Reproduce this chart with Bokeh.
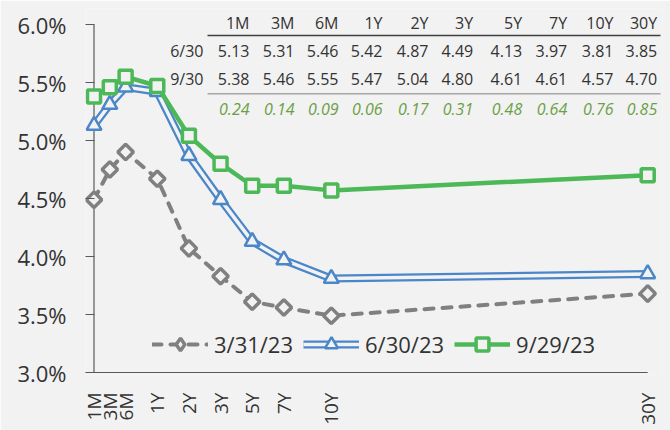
import math
from bokeh.plotting import figure
from bokeh.models import (FixedTicker, PrintfTickFormatter, Label, BoxAnnotation,
                          Legend, LegendItem, Range1d)
from bokeh.embed import file_html
from bokeh.resources import INLINE

# ---------------- data ----------------
tenors = ["1M", "3M", "6M", "1Y", "2Y", "3Y", "5Y", "7Y", "10Y", "30Y"]
x_pos = [0, 1, 2, 4, 6, 8, 10, 12, 15, 35]
y_0331 = [4.49, 4.75, 4.90, 4.67, 4.07, 3.83, 3.61, 3.56, 3.49, 3.68]
y_0630 = [5.13, 5.31, 5.46, 5.42, 4.87, 4.49, 4.13, 3.97, 3.81, 3.85]
y_0930 = [5.38, 5.46, 5.55, 5.47, 5.04, 4.80, 4.61, 4.61, 4.57, 4.70]
chg = [0.24, 0.14, 0.09, 0.06, 0.17, 0.31, 0.48, 0.64, 0.76, 0.85]
series_labels = ["3/31/23", "6/30/23", "9/29/23"]
row_labels = ["6/30", "9/30"]
y_ticks = [3.0, 3.5, 4.0, 4.5, 5.0, 5.5, 6.0]

# ---------------- style ----------------
BG = "#F2F2F2"
GRAY = "#808080"
BLUE = "#4A86C8"
GREEN = "#4CB858"
CHG_GREEN = "#6B9F45"
TXT = "#333333"
AX = "#595959"
FONT = "Open Sans"

PX_PER_X = 15.82
PX_PER_Y = 116.0
FL, FT = 85, 8            # frame left / top on the page
FRAME_W, FRAME_H = 577, 366
FB = FT + FRAME_H
X_START = -(8.5 / PX_PER_X)
X_END = X_START + FRAME_W / PX_PER_X
Y_END = 6.0 + 16 / PX_PER_Y
Y_START = Y_END - FRAME_H / PX_PER_Y

p = figure(frame_width=FRAME_W, frame_height=FRAME_H,
           x_range=Range1d(X_START, X_END), y_range=Range1d(Y_START, Y_END),
           output_backend="svg", toolbar_location=None,
           min_border_left=FL, min_border_right=8, min_border_top=FT, min_border_bottom=56)
p.background_fill_color = BG
p.border_fill_color = BG
p.outline_line_color = None
p.xgrid.visible = False
p.ygrid.visible = False

xa = p.xaxis[0]
xa.ticker = FixedTicker(ticks=x_pos)
xa.major_label_overrides = {x: t for x, t in zip(x_pos, tenors)}
xa.major_label_orientation = math.pi / 2
xa.major_tick_line_color = None
xa.minor_tick_line_color = None
xa.axis_line_color = None
xa.major_label_standoff = 12
xa.major_label_text_font = FONT
xa.major_label_text_font_size = "19px"
xa.major_label_text_color = TXT

ya = p.yaxis[0]
ya.ticker = FixedTicker(ticks=y_ticks)
ya.formatter = PrintfTickFormatter(format="%.1f%%")
ya.major_tick_in = 9
ya.major_tick_out = 0
ya.major_tick_line_color = AX
ya.minor_tick_line_color = None
ya.axis_line_color = None
ya.major_label_standoff = 19
ya.major_label_text_font = FONT
ya.major_label_text_font_size = "22px"
ya.major_label_text_color = TXT

# axis lines
p.segment(x0=[X_START, x_pos[0]], y0=[y_ticks[0], y_ticks[0]],
          x1=[x_pos[-1], x_pos[0]], y1=[y_ticks[0], y_ticks[-1]],
          line_color=AX, line_width=1.2)

# 3/31/23
g1 = p.line(x_pos, y_0331, line_color=GRAY, line_width=4, line_dash="9 9",
            line_cap="round", line_join="round")
g1m = p.scatter(x_pos, y_0331, marker="square", angle=math.pi / 4, size=11,
                line_color=GRAY, line_width=3.5, fill_color=BG)
g1leg = p.scatter(x_pos[:1], y_0331[:1], marker="diamond", size=16,
                  line_color=GRAY, line_width=3.5, fill_color=BG, visible=False)
# 6/30/23 (double line)
b1 = p.line(x_pos, y_0630, line_color=BLUE, line_width=8, line_join="round")
b2 = p.line(x_pos, y_0630, line_color=BG, line_width=3.5, line_join="round")
b1m = p.scatter(x_pos, y_0630, marker="triangle", size=15,
                line_color=BLUE, line_width=2.5, fill_color=BG)
# 9/29/23
r1 = p.line(x_pos, y_0930, line_color=GREEN, line_width=4.5, line_join="round")
r1m = p.scatter(x_pos, y_0930, marker="square", size=13,
                line_color=GREEN, line_width=3.5, fill_color=BG)

legend = Legend(items=[
    LegendItem(label=series_labels[0], renderers=[g1, g1leg]),
    LegendItem(label=series_labels[1], renderers=[b1, b2, b1m]),
    LegendItem(label=series_labels[2], renderers=[r1, r1m]),
], orientation="horizontal", location=(67, 14), glyph_width=56, glyph_height=32,
    label_standoff=6, spacing=10, padding=0, margin=0,
    background_fill_alpha=0, border_line_alpha=0,
    label_text_font=FONT, label_text_font_size="22px", label_text_color=TXT)
p.add_layout(legend)

# ---------------- table (screen coords relative to frame) ----------------
def sx(px):
    return px - FL
def sy(py):
    return FB - py

col_right = [249, 294, 338, 382, 428, 472.7, 521.7, 566.7, 613, 656.7]
row_y = [22.7, 50.3, 78.7, 108]

def add_text(txt, px, py, color=TXT, style="normal", align="right"):
    p.add_layout(Label(x=sx(px), y=sy(py), x_units="screen", y_units="screen",
                       text=txt, text_align=align, text_baseline="middle",
                       text_font=FONT, text_font_size="16px",
                       text_color=color, text_font_style=style))

for i, t in enumerate(tenors):
    add_text(t, col_right[i], row_y[0])
    add_text(f"{y_0630[i]:.2f}", col_right[i], row_y[1])
    add_text(f"{y_0930[i]:.2f}", col_right[i], row_y[2])
    add_text(f"{chg[i]:.2f}", col_right[i], row_y[3], color=CHG_GREEN, style="italic")
add_text(row_labels[0], 203, row_y[1])
add_text(row_labels[1], 203, row_y[2])

for py, col in [(35, "#404040"), (93.3, "#A6A6A6")]:
    p.add_layout(BoxAnnotation(left=sx(207), right=sx(660), top=sy(py - 0.8), bottom=sy(py + 0.8),
                               left_units="screen", right_units="screen",
                               top_units="screen", bottom_units="screen",
                               fill_color=col, fill_alpha=1, line_alpha=0))

open("out.html", "w").write(file_html(p, INLINE))
